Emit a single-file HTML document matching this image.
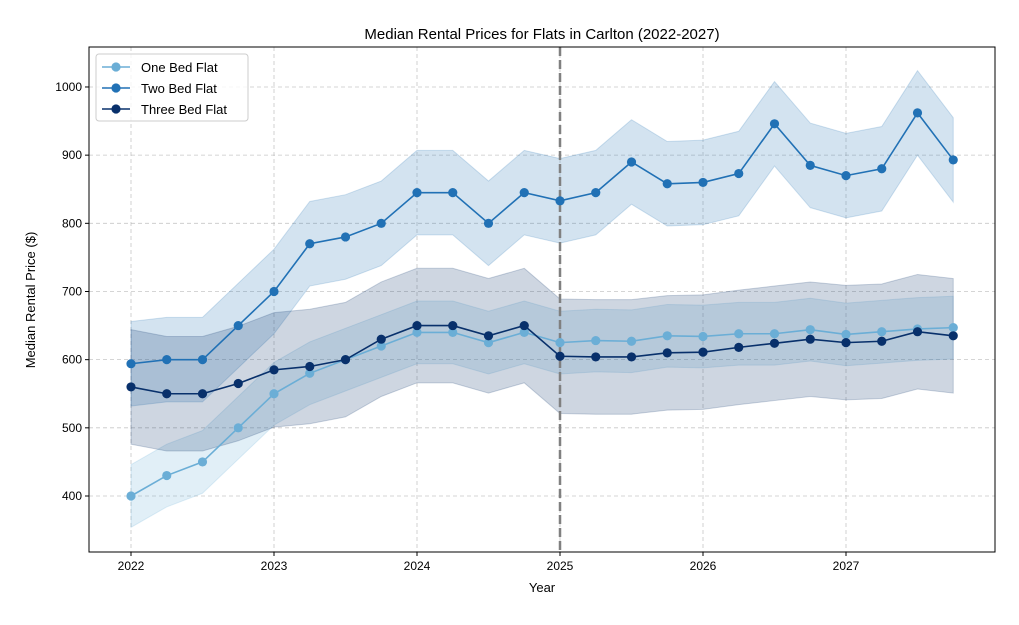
<!DOCTYPE html>
<html><head><meta charset="utf-8"><style>
body{margin:0;background:#fff;font-family:"Liberation Sans",sans-serif;}
svg text{font-family:"Liberation Sans",sans-serif;}
</style></head><body>
<svg id="c" width="1019" height="620"></svg>
<script>
const years=[];
for(let i=0;i<24;i++)years.push(2022+i*0.25);
const oneBed=[400,430,450,500,550,580,600,620,640,640,625,640,625,628,627,635,634,638,638,644,637,641,645,647];
const twoBed=[594,600,600,650,700,770,780,800,845,845,800,845,833,845,890,858,860,873,946,885,870,880,962,893];
const threeBed=[560,550,550,565,585,590,600,630,650,650,635,650,605,604,604,610,611,618,624,630,625,627,641,635];
const bandHalf=[46,62,84];
const xTicks=[2022,2023,2024,2025,2026,2027];
const yTicks=[400,500,600,700,800,900,1000];
const seriesNames=["One Bed Flat","Two Bed Flat","Three Bed Flat"];
const colors=["#6baed6","#2171b5","#08306b"];
const L=89,R=995,T=47,B=552;
const x=v=>131+(v-2022)*143;
const y=v=>496-(v-400)*0.6817;
const svg=document.getElementById('c');
const NS="http://www.w3.org/2000/svg";
function mk(t,a,p){const e=document.createElementNS(NS,t);for(const k in a)e.setAttribute(k,a[k]);(p||svg).appendChild(e);return e;}
// grid
xTicks.forEach(t=>{const l=mk('line',{x1:x(t),x2:x(t),y1:T,y2:B,stroke:'#b0b0b0','stroke-width':0.8,'stroke-dasharray':'4,3',opacity:0.7});});
yTicks.forEach(t=>{const l=mk('line',{x1:L,x2:R,y1:y(t),y2:y(t),stroke:'#b0b0b0','stroke-width':0.8,'stroke-dasharray':'4,3',opacity:0.7});});
const all=[oneBed,twoBed,threeBed];
all.forEach((s,i)=>{
  let up=s.map((v,j)=>x(years[j])+','+y(v+bandHalf[i]));
  let lo=s.map((v,j)=>x(years[j])+','+y(v-bandHalf[i])).reverse();
  const p=mk('polygon',{points:up.concat(lo).join(' '),fill:colors[i],'fill-opacity':0.2,stroke:colors[i],'stroke-opacity':0.2});
  
  
});
const vl=mk('line',{x1:x(2025),x2:x(2025),y1:T,y2:B,stroke:'#808080','stroke-width':2.5,'stroke-dasharray':'9,4'});


all.forEach((s,i)=>{
  const pl=mk('polyline',{points:s.map((v,j)=>x(years[j])+','+y(v)).join(' '),fill:'none',stroke:colors[i],'stroke-width':1.6});
  
  
  s.forEach((v,j)=>{const c=mk('circle',{cx:x(years[j]),cy:y(v),r:4.6,fill:colors[i]});
    
    });
});
mk('rect',{x:L,y:T,width:R-L,height:B-T,fill:'none',stroke:'#000','stroke-width':1});
xTicks.forEach(t=>{mk('line',{x1:x(t),x2:x(t),y1:B,y2:B+4,stroke:'#000'});
  const tx=mk('text',{x:x(t),y:B+18,'text-anchor':'middle','font-size':12});tx.textContent=t;
  });
yTicks.forEach(t=>{mk('line',{x1:L-4,x2:L,y1:y(t),y2:y(t),stroke:'#000'});
  const tx=mk('text',{x:L-7,y:y(t)+4,'text-anchor':'end','font-size':12});tx.textContent=t;
  });
let t1=mk('text',{x:542,y:39,'text-anchor':'middle','font-size':15});t1.textContent='Median Rental Prices for Flats in Carlton (2022-2027)';

let t2=mk('text',{x:542,y:592,'text-anchor':'middle','font-size':13});t2.textContent='Year';

let t3=mk('text',{x:35,y:300,'text-anchor':'middle','font-size':13,transform:'rotate(-90 35 300)'});t3.textContent='Median Rental Price ($)';

const lg=mk('g',{});
mk('rect',{x:96,y:54,width:152,height:67,rx:3,fill:'#fff','fill-opacity':0.8,stroke:'#ccc'},lg);
seriesNames.forEach((n,i)=>{const yy=67+i*21;
  mk('line',{x1:102,x2:130,y1:yy,y2:yy,stroke:colors[i],'stroke-width':1.6},lg);
  mk('circle',{cx:116,cy:yy,r:4.6,fill:colors[i]},lg);
  const tx=mk('text',{x:141,y:yy+5,'font-size':13},lg);tx.textContent=n;
  });
</script>
</body></html>
